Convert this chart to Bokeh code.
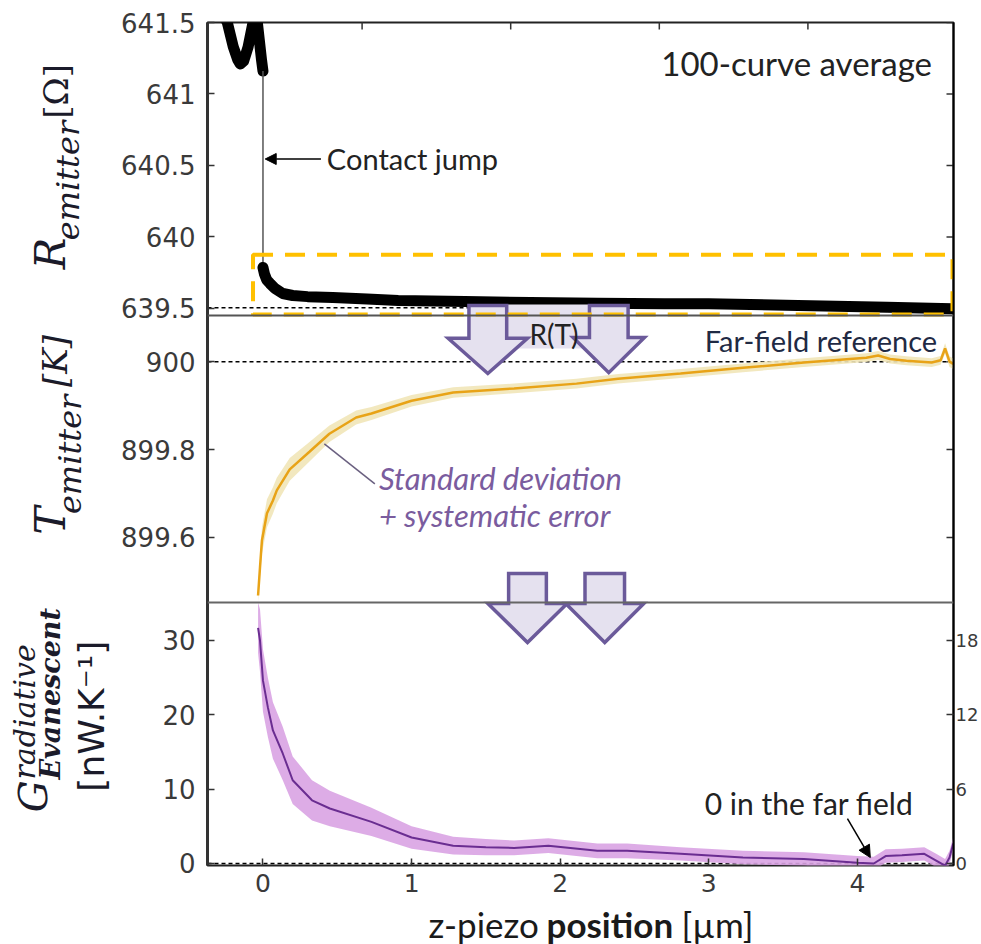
import numpy as np
from bokeh.plotting import figure
from bokeh.layouts import column, row
from bokeh.models import Range1d, LinearAxis, FixedTicker, Label, Arrow, NormalHead, Span
from bokeh.embed import file_html
from bokeh.resources import INLINE
from bokeh.core.properties import value

# ---------------- data ----------------
approach_x = [-0.373, -0.30, -0.24, -0.20, -0.17, -0.153, -0.13, -0.10, -0.067, -0.055, -0.04, -0.025, -0.01, 0.0]
approach_r = [641.75, 641.62, 641.50, 641.33, 641.24, 641.21, 641.23, 641.33, 641.50, 641.58, 641.52, 641.38, 641.24, 641.16]

contact_x = [0.0, 0.01, 0.025, 0.047, 0.08, 0.133, 0.2, 0.3, 0.47, 0.7, 0.91, 1.36, 1.8, 2.25, 2.7, 3.0, 3.6, 4.2, 4.64]
contact_r = [639.786, 639.74, 639.70, 639.674, 639.64, 639.604, 639.59, 639.582, 639.576, 639.565, 639.555,
             639.548, 639.541, 639.535, 639.533, 639.532, 639.52, 639.508, 639.497]

temp_x = [-0.033, -0.02, -0.007, 0.027, 0.067, 0.093, 0.18, 0.313, 0.447, 0.627, 0.73, 1.0, 1.28, 1.69, 2.11,
          2.39, 2.81, 3.23, 3.64, 4.06, 4.14, 4.22, 4.33, 4.5, 4.56, 4.59, 4.62, 4.645]
temp_k = [899.468, 899.532, 899.593, 899.655, 899.684, 899.707, 899.755, 899.795, 899.836, 899.873, 899.882,
          899.911, 899.93, 899.939, 899.95, 899.961, 899.973, 899.986, 899.998, 900.009, 900.014, 900.006,
          900.002, 899.998, 900.003, 900.03, 900.0, 899.995]
temp_err = [0.014, 0.022, 0.03, 0.032, 0.03, 0.029, 0.026, 0.022, 0.019, 0.016, 0.015, 0.013, 0.012, 0.011, 0.011,
            0.011, 0.01, 0.01, 0.01, 0.01, 0.01, 0.01, 0.01, 0.01, 0.01, 0.012, 0.012, 0.012]

cond_x = [-0.033, -0.02, -0.007, 0.0, 0.033, 0.067, 0.133, 0.2, 0.33, 0.45, 0.73, 1.0, 1.28, 1.5, 1.69, 1.92,
          2.25, 2.45, 2.81, 3.23, 3.64, 4.0, 4.11, 4.19, 4.3, 4.45, 4.53, 4.59, 4.62, 4.645]
cond_g = [31.7, 30.0, 26.5, 24.6, 21.0, 17.9, 14.8, 11.2, 8.5, 7.4, 5.6, 3.5, 2.4, 2.2, 2.1, 2.4, 1.7, 1.7, 1.3,
          0.8, 0.6, 0.1, 0.0, 1.0, 1.1, 1.3, 0.4, -0.3, 0.8, 2.7]
cond_err = [3.4, 4.2, 4.2, 4.2, 4.0, 3.8, 3.6, 3.2, 2.7, 2.4, 1.9, 1.5, 1.2, 1.1, 1.0, 1.0, 1.0, 1.0, 0.9, 0.9,
            0.9, 0.9, 0.9, 0.9, 0.9, 0.9, 0.9, 0.9, 0.9, 0.9]

x_ticks = [0, 1, 2, 3, 4]
x_top_ticks = [0.667, 1.667, 2.667, 3.667]
r_ticks = [639.5, 640, 640.5, 641, 641.5]
r_tick_labels = ["639.5", "640", "640.5", "641", "641.5"]
t_ticks = [899.6, 899.8, 900]
t_tick_labels = ["899.6", "899.8", "900"]
g_ticks = [0, 10, 20, 30]
g_tick_labels = ["0", "10", "20", "30"]
g_right_ticks = [0, 6, 12, 18]
g_right_per_left = 0.6
r_far_field = 639.505
t_far_field = 900.0

r_title = ["R", "emitter", "[Ω]"]
t_title = ["T", "emitter", "[K]"]
g_title = ["G", "radiative", "Evanescent", "[nW.K⁻¹]"]
x_title = ["z-piezo", "position", "[µm]"]

# ---------------- layout constants (pixels) ----------------
W, H = 981, 944
TW = 115                     # strip for the rotated y titles
BL, BR = 92, 26              # borders of the main figure
FT, B12, B23, FB = 22, 315, 602, 865   # frame top, panel borders, frame bottom (page y)
MAIN_H = 902
FH = FB - FT

X_RANGE = (-0.3733, 4.6467)
R_RANGE = (639.45, 641.5)
T_RANGE = (899.452, 900.105)
G_RANGE = (-0.27, 35.11)

s1 = (B12 - FT) / (R_RANGE[1] - R_RANGE[0])
s2 = (B23 - B12) / (T_RANGE[1] - T_RANGE[0])
s3 = (FB - B23) / (G_RANGE[1] - G_RANGE[0])

r_full = (R_RANGE[0] - (FB - B12) / s1, R_RANGE[1])
t_full = (T_RANGE[0] - (FB - B23) / s2, T_RANGE[1] + (B12 - FT) / s2)
g_full = (G_RANGE[0], G_RANGE[1] + (B23 - FT) / s3)


def pos_r(v):
    return round((FB - B12) + (v - R_RANGE[0]) * s1, 4)


def pos_t(v):
    return round((FB - B23) + (v - T_RANGE[0]) * s2, 4)


def pos_g(v):
    return round((v - G_RANGE[0]) * s3, 4)


TICK_FONT = "DejaVu Sans"
AX = "#333333"
ARROW_LINE = "#6B5A9A"
ARROW_FILL = "#E5E1EF"

p = figure(width=W - TW, height=MAIN_H, x_range=Range1d(*X_RANGE), y_range=Range1d(0, FH),
           output_backend="svg", toolbar_location=None, x_axis_location=None, y_axis_location=None,
           min_border_left=BL, min_border_right=BR, min_border_top=FT, min_border_bottom=MAIN_H - FB)
p.grid.visible = False
p.outline_line_color = "#222222"
p.outline_line_width = 2
p.extra_y_ranges = {"r": Range1d(*r_full), "t": Range1d(*t_full), "g": Range1d(*g_full),
                    "gr": Range1d(g_full[0] * g_right_per_left, g_full[1] * g_right_per_left)}


def style_axis(ax, ticks, size, standoff):
    ax.ticker = FixedTicker(ticks=ticks)
    ax.major_tick_in = 7
    ax.major_tick_out = 0
    ax.minor_tick_line_color = None
    ax.major_tick_line_color = AX
    ax.major_tick_line_width = 1.5
    ax.axis_line_color = AX
    ax.axis_line_width = 3
    ax.major_label_text_font = TICK_FONT
    ax.major_label_text_font_size = f"{size}px"
    ax.major_label_text_color = "#3a3a3a"
    ax.major_label_standoff = standoff


# left axis: one continuous line carrying the three panels' scales
left_pos = [pos_r(v) for v in r_ticks] + [pos_t(v) for v in t_ticks] + [pos_g(v) for v in g_ticks]
left_lab = r_tick_labels + t_tick_labels + g_tick_labels
ax_l = LinearAxis()
style_axis(ax_l, left_pos, 26, 12)
ax_l.major_label_overrides = {k: v for k, v in zip(left_pos, left_lab)}
p.add_layout(ax_l, "left")

ax_b = LinearAxis()
style_axis(ax_b, x_ticks, 25, 8)
ax_b.axis_line_color = None
p.add_layout(ax_b, "below")

ax_r = LinearAxis(y_range_name="gr")
style_axis(ax_r, g_right_ticks, 18, 2)
ax_r.axis_line_color = "black"
ax_r.axis_line_width = 2
p.add_layout(ax_r, "right")

# inner tick marks of panels 1-2 (right side) and panel 1 (top side)
p.scatter([X_RANGE[1]] * len(r_ticks), r_ticks, y_range_name="r", marker="dash", size=14,
          line_color=AX, line_width=1.5)
p.scatter([X_RANGE[1]] * len(t_ticks), t_ticks, y_range_name="t", marker="dash", size=14,
          line_color=AX, line_width=1.5)
p.scatter(x_top_ticks, [R_RANGE[1]] * len(x_top_ticks), y_range_name="r", marker="dash", angle=np.pi / 2,
          size=14, line_color=AX, line_width=1.5)

# panel separators
p.add_layout(Span(location=FB - B12, dimension="width", line_color="#555555", line_width=2))
p.add_layout(Span(location=FB - B23, dimension="width", line_color="#666666", line_width=2))

# reference lines
p.add_layout(Span(location=r_far_field, dimension="width", y_range_name="r", line_color="black",
                  line_width=1.5, line_dash="4 3", level="underlay"))
p.add_layout(Span(location=t_far_field, dimension="width", y_range_name="t", line_color="black",
                  line_width=1.5, line_dash="4 3", level="underlay"))
p.add_layout(Span(location=0, dimension="width", y_range_name="g", line_color="black",
                  line_width=1.5, line_dash="4 3", level="underlay"))

# ---- panel 1
p.line(approach_x, approach_r, y_range_name="r", line_color="black", line_width=11, line_cap="round",
       line_join="round")
p.line([contact_x[0], contact_x[0]], [approach_r[-1], contact_r[0]], y_range_name="r", line_color="#555555",
       line_width=1.5)
p.line(contact_x, contact_r, y_range_name="r", line_color="black", line_width=11, line_cap="round",
       line_join="round")

# ---- panel 2
t_lo = [v - e for v, e in zip(temp_k, temp_err)]
t_hi = [v + e for v, e in zip(temp_k, temp_err)]
p.varea(x=temp_x, y1=t_lo, y2=t_hi, y_range_name="t", fill_color="#F1E6B8", fill_alpha=0.9)
p.line(temp_x, temp_k, y_range_name="t", line_color="#E8A317", line_width=2.5)

# ---- panel 3
g_lo = [v - e for v, e in zip(cond_g, cond_err)]
g_hi = [v + e for v, e in zip(cond_g, cond_err)]
p.varea(x=cond_x, y1=g_lo, y2=g_hi, y_range_name="g", fill_color="#D9A3E3", fill_alpha=0.9)
p.line(cond_x, cond_g, y_range_name="g", line_color="#6A2D91", line_width=2)


# ---- big arrows
def arrow_poly(xc, shaft_hw, head_hw, y_top, y_head, y_tip):
    xs = [xc - shaft_hw, xc + shaft_hw, xc + shaft_hw, xc + head_hw, xc, xc - head_hw, xc - shaft_hw]
    ys = [y_top, y_top, y_head, y_head, y_tip, y_head, y_head]
    return xs, ys


p.quad(left=[1.63], right=[2.22], top=[900.13], bottom=[900.03], y_range_name="t", fill_color=ARROW_FILL,
       line_color=None)
for xs, ys in [arrow_poly(1.513, 0.127, 0.267, 900.128, 900.053, 899.973),
               arrow_poly(2.327, 0.13, 0.24, 900.128, 900.055, 899.975)]:
    p.patch(xs, ys, y_range_name="t", fill_color=ARROW_FILL, line_color=ARROW_LINE, line_width=3.5,
            line_join="miter")
for xs, ys in [arrow_poly(1.78, 0.127, 0.267, 39.0, 34.98, 29.73),
               arrow_poly(2.30, 0.133, 0.263, 39.0, 34.98, 29.73)]:
    p.patch(xs, ys, y_range_name="g", fill_color=ARROW_FILL, line_color=ARROW_LINE, line_width=3.5,
            line_join="miter")

# yellow dashed zoom box
p.quad(left=[-0.067], right=[4.64], top=[639.875], bottom=[639.457], y_range_name="r", fill_color=None,
       line_color="#FFC000", line_width=4, line_dash="20 12")


def label(text, x, y, rng, size, style="normal", color="#222222"):
    p.add_layout(Label(x=x, y=y, y_range_name=rng, text=text, text_font="Lato", text_font_size=f"{size}px",
                       text_font_style=style, text_color=color, text_align="left", text_baseline="middle"))


label("100-curve average", 2.68, 641.22, "r", 33)
label("Contact jump", 0.43, 640.548, "r", 29)
p.add_layout(Arrow(end=NormalHead(size=11, fill_color="black", line_color="black"), y_range_name="r",
                   x_start=0.39, y_start=640.545, x_end=0.015, y_end=640.545, line_color="black",
                   line_width=1.5))
label("R(T)", 1.793, 900.064, "t", 28)
label("Far-field reference", 2.973, 900.048, "t", 29, color="#1F2A44")
label("Standard deviation", 0.78, 899.736, "t", 31, style="italic", color="#7A5C9E")
label("+ systematic error", 0.78, 899.65, "t", 31, style="italic", color="#7A5C9E")
p.line([0.753, 0.413], [899.722, 899.813], y_range_name="t", line_color="#6A6080", line_width=1.5)
label("0 in the far field", 2.973, 8.2, "g", 30)
p.add_layout(Arrow(end=NormalHead(size=12, fill_color="black", line_color="black"), y_range_name="g",
                   x_start=3.933, y_start=6.05, x_end=4.087, y_end=0.8, line_color="black", line_width=1.5))

# ---------------- y-title strip (page pixel coordinates) ----------------
tf = figure(width=TW, height=MAIN_H, x_range=Range1d(0, TW), y_range=Range1d(MAIN_H, 0),
            output_backend="svg", toolbar_location=None, x_axis_location=None, y_axis_location=None,
            min_border=0, outline_line_color=None)
tf.grid.visible = False
A90 = np.pi / 2


def vt(text, x, y, size, font="DejaVu Serif", style="italic"):
    tf.text(x=[x], y=[y], text=[text], angle=A90, text_font=value(font), text_font_style=style,
            text_font_size=f"{size}px", text_color="#1b1b2a", text_align="left", text_baseline="middle")


vt(r_title[0], 50, 264, 42)
vt(r_title[1], 67, 233, 32)
vt(r_title[2], 55, 103, 34, style="normal")
vt(t_title[0], 50, 548, 42)
vt(t_title[1], 69, 526, 32)
vt(t_title[2], 54, 390, 34)
vt(g_title[0], 32, 845, 40)
vt(g_title[1], 24, 810, 30)
vt(g_title[2], 50, 810, 27, style="bold italic")
vt(g_title[3], 91, 823, 36, font="DejaVu Sans", style="normal")

# ---------------- x-title strip ----------------
xt = figure(width=W, height=H - MAIN_H, x_range=Range1d(0, W), y_range=Range1d(H, MAIN_H),
            output_backend="svg", toolbar_location=None, x_axis_location=None, y_axis_location=None,
            min_border=0, outline_line_color=None)
xt.grid.visible = False
for txt, x0, st in zip(x_title, [428, 546, 681], ["normal", "bold", "normal"]):
    xt.text(x=[x0], y=[(H + MAIN_H) / 2], text=[txt], text_font=value("Lato"), text_font_style=st,
            text_font_size="35px", text_color="#1a1a1a", text_align="left", text_baseline="middle")

layout = column(row(tf, p, spacing=0), xt, spacing=0)
open("out.html", "w").write(file_html(layout, INLINE))
